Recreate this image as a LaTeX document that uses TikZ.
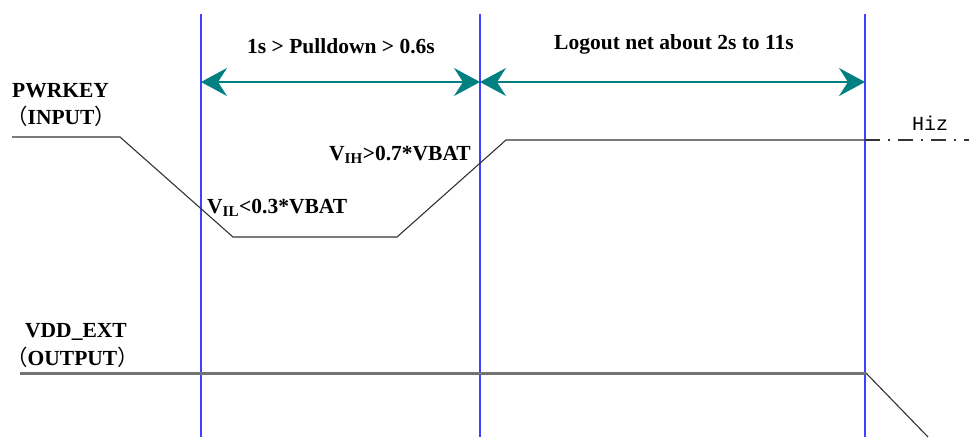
\documentclass[tikz,border=0pt]{standalone}
\usepackage{fontspec}
\setmainfont{Liberation Serif}
\newfontfamily\cjk{Noto Sans CJK SC}
\newfontfamily\hizfont{Liberation Mono}
\usetikzlibrary{arrows.meta}
\definecolor{vline}{rgb}{0.25,0.25,1.}
\definecolor{tealarr}{rgb}{0.,0.5,0.5}
\definecolor{sigline}{rgb}{0.2,0.2,0.2}
\definecolor{vddline}{rgb}{0.45,0.45,0.45}
\tikzset{
  marker/.style={line width=1.5pt,color=vline},
  span/.style={line width=1.6pt,color=tealarr,
    {Stealth[length=26pt,width=28pt,inset=9pt]}-{Stealth[length=26pt,width=28pt,inset=9pt]}},
  sig/.style={line width=1.1pt,color=sigline},
  lbl/.style={font=\bfseries\fontsize{21.5}{23}\selectfont,inner sep=0pt},
}
\newcommand{\fw}[1]{{\cjk\mdseries #1}}
\begin{document}
\begin{tikzpicture}[x=1pt,y=-1pt]
\useasboundingbox (0,0) rectangle (969,437);
% marker lines
\coordinate (atop) at (201,14);
\coordinate (btop) at (480,14);
\coordinate (ctop) at (865,14);
\coordinate (abot) at (201,437);
\coordinate (bbot) at (480,437);
\coordinate (cbot) at (865,437);
\coordinate (aarr) at (201,82);
\coordinate (barr) at (480,82);
\coordinate (carr) at (865,82);
\foreach \n in {a,b,c}
  \draw [marker] (\n top) -- (\n bot);
% spans
\draw [span] (aarr) -- (barr);
\draw [span] (barr) -- (carr);
\node [lbl] (pull) at (341,46) {1s > Pulldown > 0.6s};
\node [lbl] (logout) at (674,44) {Logout net about 2s to 11s};
% PWRKEY
\node [lbl,anchor=west] (pwr) at (12,91) {PWRKEY};
\node [lbl,anchor=west] (pin) at (6,116) {\fw{（}INPUT\fw{）}};
\coordinate (p0) at (12,137);
\coordinate (p1) at (120,137);
\coordinate (p2) at (233,237);
\coordinate (p3) at (397,237);
\coordinate (p4) at (506,140);
\coordinate (p5) at (865,140);
\coordinate (p6) at (969,140);
\draw [sig] (p0) -- (p1) -- (p2) -- (p3) -- (p4) -- (p5);
\draw [sig,dash pattern=on 15pt off 8pt on 2pt off 8pt] (p5) -- (p6);
\node [font=\hizfont\fontsize{20}{22}\selectfont,inner sep=0pt] (hiz) at (930,123) {Hiz};
\node [lbl,anchor=west] (vil) at (207,208) {V\textsubscript{IL}<0.3*VBAT};
\node [lbl,anchor=east] (vih) at (471,155) {V\textsubscript{IH}>0.7*VBAT};
% VDD_EXT
\node [lbl,anchor=west] (vdd) at (25,332) {VDD\_EXT};
\node [lbl,anchor=west] (vout) at (6,357) {\fw{（}OUTPUT\fw{）}};
\coordinate (q0) at (20,373);
\coordinate (q1) at (866,373);
\coordinate (q2) at (928,437);
\draw [line width=3pt,color=vddline] (q0) -- (q1);
\draw [sig] (q1) -- (q2);
\end{tikzpicture}
\end{document}
